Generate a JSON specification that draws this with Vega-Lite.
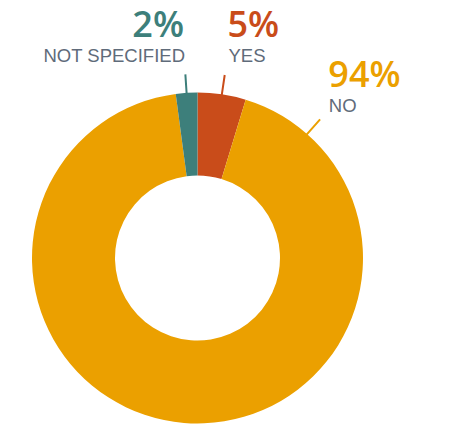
{
  "$schema": "https://vega.github.io/schema/vega-lite/v6.json",
  "width": 395,
  "height": 332,
  "autosize": "none",
  "padding": {"left": 0, "top": 92, "right": 58, "bottom": 4},
  "background": "white",
  "view": {"stroke": null},
  "data": {"values": [
    {"answer": "YES", "share": 4.7, "label": "5%", "order": 1},
    {"answer": "NO", "share": 93.2, "label": "94%", "order": 2},
    {"answer": "NOT SPECIFIED", "share": 2.1, "label": "2%", "order": 3}
  ]},
  "transform": [
    {"stack": "share", "groupby": [], "sort": [{"field": "order", "order": "ascending"}], "as": ["s0", "s1"]}
  ],
  "layer": [
    {
      "mark": {"type": "arc", "radius": 165.5, "radius2": 82.5},
      "encoding": {
        "theta": {"field": "s0", "type": "quantitative", "scale": {"domain": [0, 100]}},
        "theta2": {"field": "s1"},
        "color": {"field": "answer", "type": "nominal", "scale": {"domain": ["YES", "NO", "NOT SPECIFIED"], "range": ["#C94C1A", "#EBA000", "#3D7F7B"]}, "legend": null}
      }
    },
    {
      "transform": [{"filter": "datum.answer === 'NOT SPECIFIED'"}],
      "mark": {"type": "arc", "radius": 184, "radius2": 164, "padAngle": 3, "fillOpacity": 0, "stroke": "#3D7F7B", "strokeWidth": 2},
      "encoding": {"theta": {"field": "s0", "type": "quantitative"}, "theta2": {"field": "s1"}}
    },
    {
      "transform": [{"filter": "datum.answer === 'YES'"}],
      "mark": {"type": "arc", "radius": 185, "radius2": 164, "padAngle": 3, "fillOpacity": 0, "stroke": "#C94C1A", "strokeWidth": 2},
      "encoding": {"theta": {"field": "s0", "type": "quantitative"}, "theta2": {"field": "s1"}}
    },
    {
      "transform": [{"filter": "datum.answer === 'NO'"}],
      "mark": {"type": "arc", "radius": 185, "radius2": 163, "padAngle": 3, "theta2Offset": -4.998, "fillOpacity": 0, "stroke": "#EBA000", "strokeWidth": 2},
      "encoding": {"theta": {"field": "s0", "type": "quantitative"}, "theta2": {"field": "s1"}}
    },
    {
      "transform": [{"filter": "datum.answer === 'NOT SPECIFIED'"}],
      "mark": {"type": "text", "radius": 185, "align": "right", "baseline": "alphabetic", "dx": -13.5, "dy": -36.5, "font": "Open Sans", "fontSize": 36, "fontWeight": 600, "color": "#3D7F7B"},
      "encoding": {"theta": {"field": "s1", "type": "quantitative"}, "text": {"field": "label"}}
    },
    {
      "transform": [{"filter": "datum.answer === 'NOT SPECIFIED'"}],
      "mark": {"type": "text", "radius": 185, "align": "right", "baseline": "alphabetic", "dx": -12.5, "dy": -11.5, "font": "Liberation Sans", "fontSize": 18.5, "color": "#5F6B7A"},
      "encoding": {"theta": {"field": "s1", "type": "quantitative"}, "text": {"field": "answer"}}
    },
    {
      "transform": [{"filter": "datum.answer === 'YES'"}],
      "mark": {"type": "text", "radius": 185, "align": "left", "baseline": "alphabetic", "dx": 30, "dy": -36, "font": "Open Sans", "fontSize": 36, "fontWeight": 600, "color": "#C94C1A"},
      "encoding": {"theta": {"field": "s0", "type": "quantitative"}, "text": {"field": "label"}}
    },
    {
      "transform": [{"filter": "datum.answer === 'YES'"}],
      "mark": {"type": "text", "radius": 185, "align": "left", "baseline": "alphabetic", "dx": 31, "dy": -11.5, "font": "Liberation Sans", "fontSize": 18.5, "color": "#5F6B7A"},
      "encoding": {"theta": {"field": "s0", "type": "quantitative"}, "text": {"field": "answer"}}
    },
    {
      "transform": [{"filter": "datum.answer === 'NO'"}],
      "mark": {"type": "text", "radius": 185, "align": "left", "baseline": "alphabetic", "dx": 77, "dy": 5.5, "font": "Open Sans", "fontSize": 36, "fontWeight": 600, "color": "#EBA000"},
      "encoding": {"theta": {"field": "s0", "type": "quantitative"}, "text": {"field": "label"}}
    },
    {
      "transform": [{"filter": "datum.answer === 'NO'"}],
      "mark": {"type": "text", "radius": 185, "align": "left", "baseline": "alphabetic", "dx": 77.5, "dy": 30.5, "font": "Liberation Sans", "fontSize": 18.5, "color": "#5F6B7A"},
      "encoding": {"theta": {"field": "s0", "type": "quantitative"}, "text": {"field": "answer"}}
    }
  ]
}
